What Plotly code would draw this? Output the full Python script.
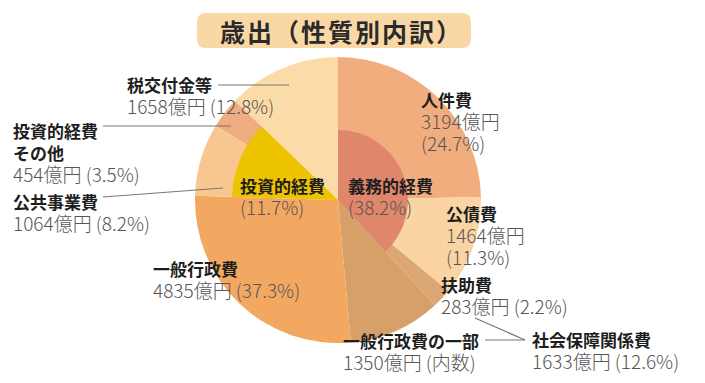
import plotly.graph_objects as go

W, H = 705, 383

# ---- data ----
outer_labels = ["人件費", "公債費", "扶助費", "一般行政費の一部", "一般行政費(その他)",
                "公共事業費", "投資的経費その他", "税交付金等"]
jinkenhi = 3194
kousaihi = 1464
fujohi = 283
ippan_gyosei = 4835
ippan_part = 1350
koukyou = 1064
toushi_other = 454
zeikoufu = 1658
shakai_hosho = 1633
outer_values = [jinkenhi, kousaihi, fujohi, ippan_part, ippan_gyosei - ippan_part,
                koukyou, toushi_other, zeikoufu]
outer_colors = ["#F1AD7E", "#FAD5A3", "#DDA675", "#D7A068", "#F3A862",
                "#F8C68F", "#EFAC80", "#FBDCA9"]
pct = {"人件費": 24.7, "公債費": 11.3, "扶助費": 2.2, "一般行政費": 37.3,
       "公共事業費": 8.2, "その他": 3.5, "税交付金等": 12.8,
       "義務的経費": 38.2, "投資的経費": 11.7, "社会保障関係費": 12.6}

gimu_total = jinkenhi + kousaihi + fujohi
toushi_total = koukyou + toushi_other

OFF = 8  # page body margin

def px(x):
    return (x - OFF) / W

def py(y):
    return 1 - (y - OFF) / H

cx, cy = 338, 200
R_OUT, R_GIMU, R_TOUSHI = 143, 70, 106

def dom(r):
    return dict(x=[px(cx - r), px(cx + r)], y=[py(cy + r), py(cy - r)])

fig = go.Figure()
fig.add_trace(go.Pie(values=outer_values, labels=outer_labels, sort=False,
                     direction="clockwise", rotation=0, textinfo="none",
                     hoverinfo="label+value", showlegend=False,
                     marker=dict(colors=outer_colors, line=dict(width=0)),
                     domain=dom(R_OUT)))
fig.add_trace(go.Pie(values=[gimu_total, toushi_total + zeikoufu + ippan_gyosei],
                     labels=["義務的経費", "他"], sort=False,
                     direction="clockwise", rotation=0, textinfo="none",
                     hoverinfo="skip", showlegend=False,
                     marker=dict(colors=["#E0866B", "rgba(0,0,0,0)"], line=dict(width=0)),
                     domain=dom(R_GIMU)))
fig.add_trace(go.Pie(values=[gimu_total + ippan_gyosei, toushi_total, zeikoufu],
                     labels=["他1", "投資的経費", "他2"], sort=False,
                     direction="clockwise", rotation=0, textinfo="none",
                     hoverinfo="skip", showlegend=False,
                     marker=dict(colors=["rgba(0,0,0,0)", "#EEC300", "rgba(0,0,0,0)"],
                                 line=dict(width=0)),
                     domain=dom(R_TOUSHI)))

FONT = "Noto Sans CJK JP"
NAME_C = "#1e1e1e"
VAL_C = "#575757"

def V(s):
    return "<span style='font-size:19px;font-weight:300;color:%s'>%s</span>" % (VAL_C, s)

def N(s):
    return "<b>%s</b>" % s

def block(x, y_first, lines):
    n = len(lines)
    yc = y_first + (n - 1) * 22 / 2
    fig.add_annotation(x=px(x - 2), y=py(yc), xref="paper", yref="paper",
                       text="<br>".join(lines), showarrow=False,
                       xanchor="left", yanchor="middle", align="left",
                       font=dict(family=FONT, size=17, color=NAME_C))

def line(x0, y0, x1, y1):
    fig.add_shape(type="line", xref="paper", yref="paper",
                  x0=px(x0), y0=py(y0), x1=px(x1), y1=py(y1),
                  line=dict(color="#777777", width=1.2))

# title box (rounded)
bx0, by0, bx1, by1, rr = 197, 13, 471, 48, 9
path = ("M %f,%f L %f,%f Q %f,%f %f,%f L %f,%f Q %f,%f %f,%f L %f,%f Q %f,%f %f,%f "
        "L %f,%f Q %f,%f %f,%f Z") % (
    px(bx0 + rr), py(by0), px(bx1 - rr), py(by0),
    px(bx1), py(by0), px(bx1), py(by0 + rr),
    px(bx1), py(by1 - rr),
    px(bx1), py(by1), px(bx1 - rr), py(by1),
    px(bx0 + rr), py(by1),
    px(bx0), py(by1), px(bx0), py(by1 - rr),
    px(bx0), py(by0 + rr),
    px(bx0), py(by0), px(bx0 + rr), py(by0))
fig.add_shape(type="path", path=path, xref="paper", yref="paper",
              fillcolor="#F9D8A6", line=dict(width=0), layer="below")
fig.add_annotation(x=px(341), y=py(31), xref="paper", yref="paper",
                   text="<span style='letter-spacing:2px'><b>歳出（性質別内訳）</b></span>",
                   showarrow=False, xanchor="center", yanchor="middle",
                   font=dict(family=FONT, size=25, color="#2a2a2a"))

def yen(v):
    return "%d億円" % v

# labels
block(127, 84, [N("税交付金等"), V("%s (%.1f%%)" % (yen(zeikoufu), pct["税交付金等"]))])
line(218, 85, 289, 85)

block(13, 130, [N("投資的経費"), N("その他"), V("%s (%.1f%%)" % (yen(toushi_other), pct["その他"]))])
line(103, 126, 231, 126)

block(13, 201, [N("公共事業費"), V("%s (%.1f%%)" % (yen(koukyou), pct["公共事業費"]))])
line(103, 197, 223, 188)

block(153, 268, [N("一般行政費"), V("%s (%.1f%%)" % (yen(ippan_gyosei), pct["一般行政費"]))])

block(240, 185, [N("投資的経費"), V("(%.1f%%)" % pct["投資的経費"])])
block(348, 185, [N("義務的経費"), V("(%.1f%%)" % pct["義務的経費"])])

block(421, 100, [N("人件費"), V(yen(jinkenhi)), V("(%.1f%%)" % pct["人件費"])])
block(446, 213, [N("公債費"), V(yen(kousaihi)), V("(%.1f%%)" % pct["公債費"])])
block(441, 284, [N("扶助費"), V("%s (%.1f%%)" % (yen(fujohi), pct["扶助費"]))])

block(343, 340, [N("一般行政費の一部"), V("%s (内数)" % yen(ippan_part))])
block(532, 339, [N("社会保障関係費"), V("%s (%.1f%%)" % (yen(shakai_hosho), pct["社会保障関係費"]))])
line(475, 318, 525, 340)
line(485, 340, 525, 340)

fig.update_layout(width=W, height=H, margin=dict(l=0, r=0, t=0, b=0),
                  paper_bgcolor="white", plot_bgcolor="white",
                  showlegend=False)
fig.write_html("out.html")
